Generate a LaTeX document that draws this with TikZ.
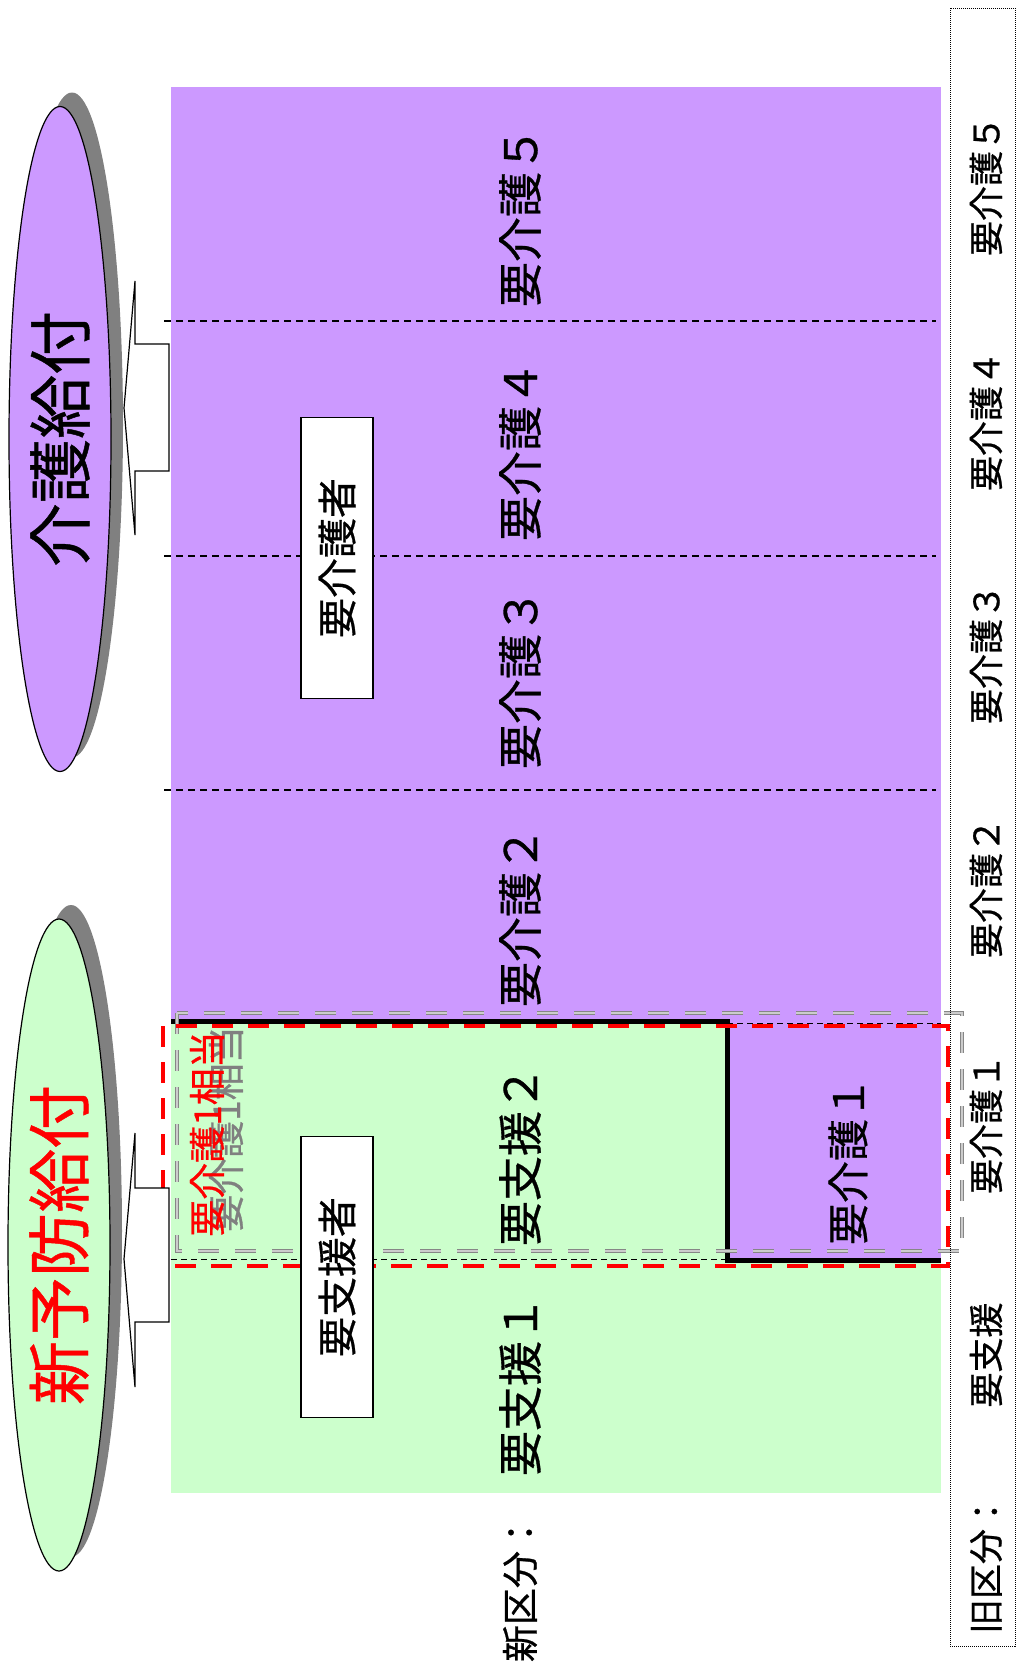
\documentclass[tikz,border=0pt]{standalone}
\usepackage{fontspec}
\setmainfont{Noto Sans CJK JP}
\newfontfamily\jpb{Noto Sans CJK JP}[FakeBold=0.7]
\usetikzlibrary{shapes.geometric}
\definecolor{kpurple}{HTML}{CC99FF}
\definecolor{kgreen}{HTML}{CCFFCC}
\definecolor{shgray}{HTML}{808080}
\begin{document}
\begin{tikzpicture}[x=1pt,y=-1pt,
  lbl/.style={rotate=90, font=\jpb\fontsize{45}{50}\selectfont, inner sep=0},
  oldlbl/.style={rotate=90, font=\jpb\fontsize{35}{40}\selectfont, inner sep=0},
  sepline/.style={line width=1.3pt, dash pattern=on 7pt off 5pt},
  thinsep/.style={line width=1pt, dash pattern=on 6pt off 4pt},
  wbox/.style={draw, line width=1.3pt, fill=white, rotate=90, minimum width=281pt, minimum height=72pt, font=\jpb\fontsize{40}{44}\selectfont, inner sep=0},
  bigell/.style={ellipse, draw, line width=1.2pt, rotate=90, inner sep=0, font=\jpb\fontsize{64}{68}\selectfont},
  shell/.style={ellipse, fill=shgray, rotate=90, inner sep=0},
  calloutshape/.style={draw, line width=1.2pt, fill=white, line join=miter}
]
\useasboundingbox (0,0) rectangle (1017,1663);
\fill[white] (0,0) rectangle (1017,1663);

% bands
\fill[kpurple] (171,87) rectangle (941,1021);
\fill[kgreen] (171,1021) rectangle (941,1493);
\fill[kpurple] (727,1021) rectangle (941,1260);

% separators
\draw[sepline] (164,321) -- (936,321);
\draw[sepline] (164,556) -- (936,556);
\draw[sepline] (164,790) -- (936,790);
\draw[thinsep] (171,1259) -- (727,1259);
\draw[thinsep] (727,1023) -- (941,1023);

% thick black border
\draw[line width=5pt, line join=miter] (171,1021) -- (727,1021) -- (727,1260) -- (941,1260);

% gray dashed frame
\draw[gray!95, line width=4.5pt, dash pattern=on 21pt off 16pt] (177,1013) rectangle (962,1251);
\draw[gray!40, line width=1.2pt, dash pattern=on 21pt off 16pt] (177,1013) rectangle (962,1251);

% 要介護1相当 text (gray behind, red front)
\node[rotate=90, font=\jpb\fontsize{37}{40}\selectfont, text=gray, inner sep=0] (eqg) at (226,1129) {要介護1相当};
\node[rotate=90, font=\jpb\fontsize{37}{40}\selectfont, text=red, inner sep=0] (eqr) at (207,1134) {要介護1相当};

% red dashed frame
\draw[red, line width=4.5pt, dash pattern=on 21pt off 15pt] (163,1026) rectangle (948,1266);

% labels
\node[lbl] (k5) at (520,217) {要介護５};
\node[lbl] (k4) at (520,451) {要介護４};
\node[lbl] (k3) at (520,679) {要介護３};
\node[lbl] (k2) at (520,917) {要介護２};
\node[lbl] (s2) at (520,1156) {要支援２};
\node[lbl] (s1) at (520,1386) {要支援１};
\node[lbl, font=\jpb\fontsize{42}{46}\selectfont] (k1) at (848,1161) {要介護１};

% boxes
\node[wbox] (b1) at (337,558) {要介護者};
\node[wbox] (b2) at (337,1277) {要支援者};

% new classification label
\node[rotate=90, font=\jpb\fontsize{37}{40}\selectfont, inner sep=0] (newc) at (520,1588) {新区分：};

% old classification column
\draw[line width=1pt, densely dotted] (950,8) rectangle (1015,1646);
\node[oldlbl] (o5) at (986,186) {要介護５};
\node[oldlbl] (o4) at (986,421) {要介護４};
\node[oldlbl] (o3) at (986,654) {要介護３};
\node[oldlbl] (o2) at (986,888) {要介護２};
\node[oldlbl] (o1) at (986,1124) {要介護１};
\node[oldlbl] (os) at (986,1355) {要支援};
\node[oldlbl] (oc) at (986,1564) {旧区分：};

% ellipses with shadows
\node[shell, minimum width=665pt, minimum height=102pt] (sh1) at (72,425) {};
\node[bigell, fill=kpurple, minimum width=665pt, minimum height=102pt] (e1) at (60,439) {介護給付};
\node[shell, minimum width=652pt, minimum height=102pt] (sh2) at (71,1231) {};
\node[bigell, fill=kgreen, text=red, minimum width=652pt, minimum height=102pt] (e2) at (59,1245) {新予防給付};

% callout arrows
\draw[calloutshape] (169,344) -- (135,344) -- (135,281) -- (124,408) -- (135,535) -- (135,471) -- (169,471) -- cycle;
\draw[calloutshape] (169,1188) -- (135,1188) -- (135,1133) -- (124,1259) -- (135,1387) -- (135,1322) -- (169,1322) -- cycle;
\end{tikzpicture}
\end{document}
